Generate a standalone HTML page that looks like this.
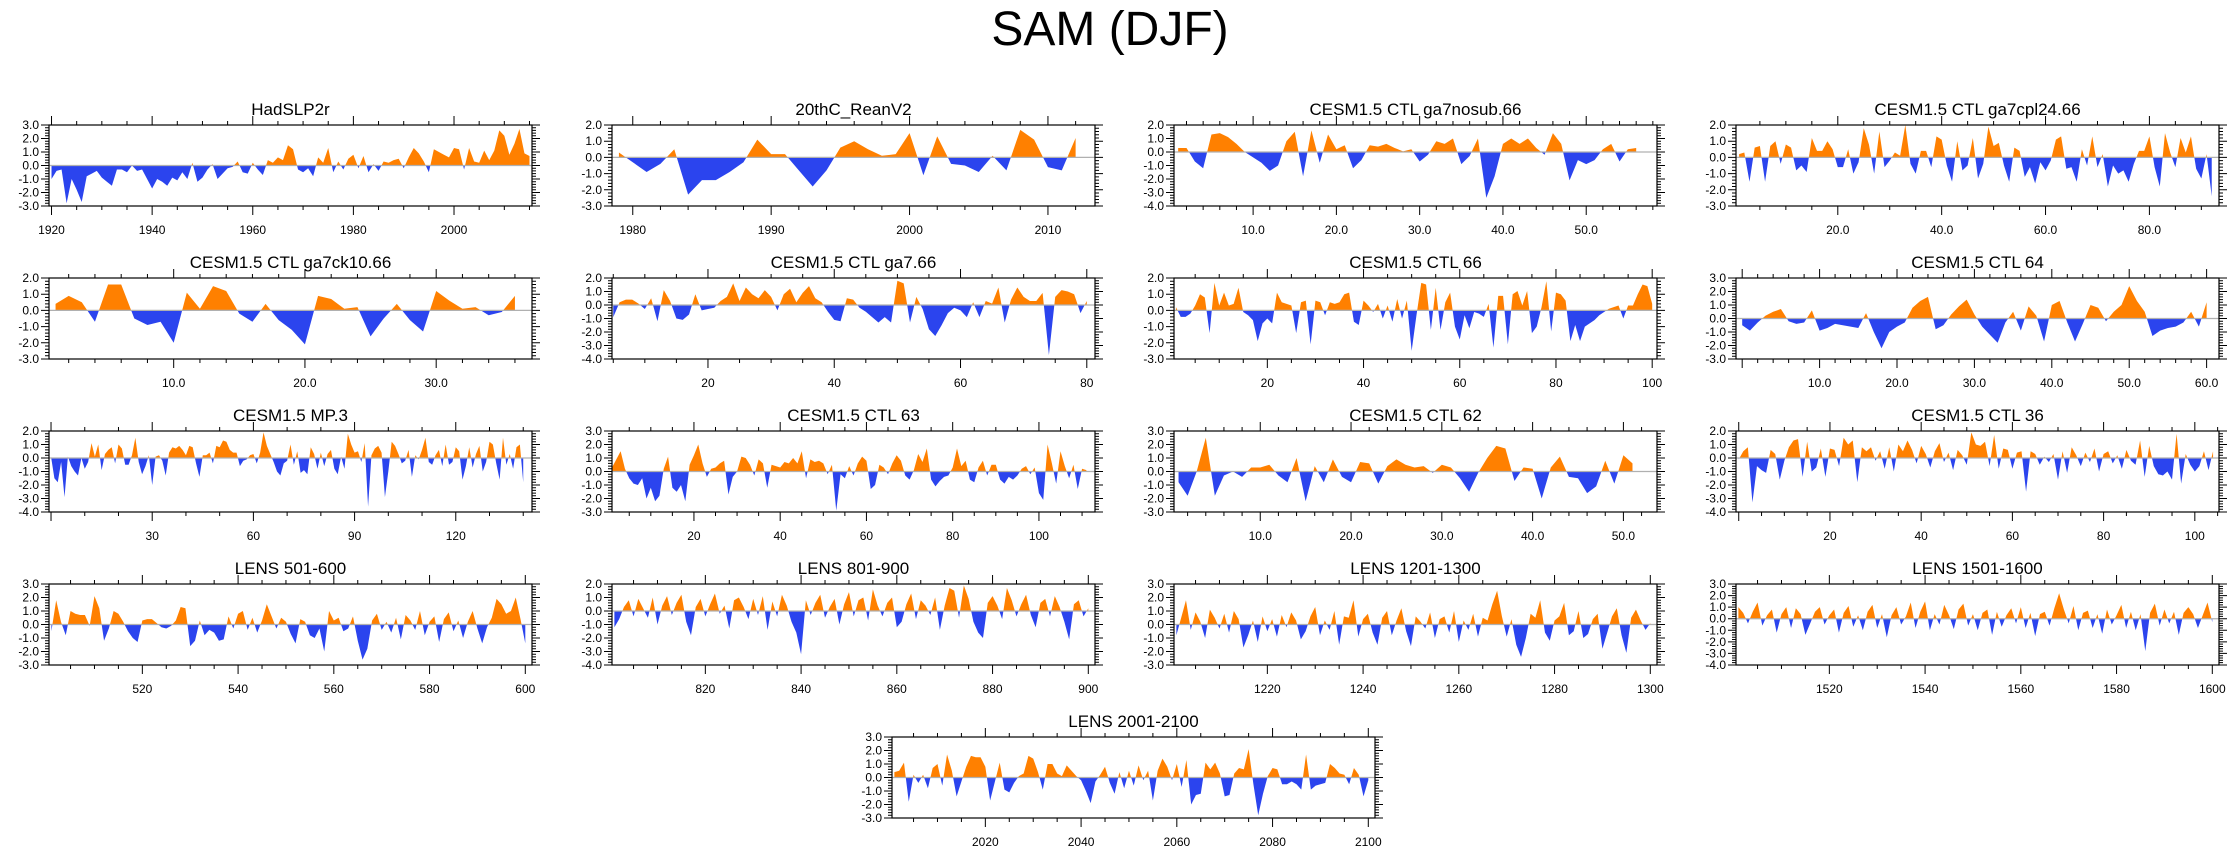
<!DOCTYPE html>
<html><head><meta charset="utf-8">
<style>
html,body{margin:0;padding:0;background:#fff;}
svg{display:block;font-family:"Liberation Sans",Arial,sans-serif;}
</style></head>
<body>
<svg id="fig" width="2238" height="856" viewBox="0 0 2238 856">
<text x="1110" y="45" font-size="48" text-anchor="middle">SAM (DJF)</text>
</svg>
<script>
// ---- data arrays ----
const hadslp2r = [-1.0,-0.4,-0.3,-2.8,-1.0,-1.8,-2.7,-0.8,-0.6,-0.4,-0.9,-1.2,-1.5,-0.3,-0.3,-0.5,0.0,-0.4,-0.3,-1.0,-1.7,-1.0,-1.2,-1.5,-0.9,-1.1,-0.5,-1.0,0.2,-1.2,-0.9,-0.3,0.1,-1.0,-0.6,-0.2,-0.1,0.3,-0.5,-0.6,0.2,-0.3,-0.7,0.4,0.2,0.6,0.4,1.5,1.2,-0.3,-0.5,-0.2,-0.8,0.6,0.2,1.3,-0.5,0.3,-0.3,0.5,0.8,-0.2,0.7,-0.5,0.1,-0.4,0.3,0.2,0.4,0.5,-0.2,0.6,1.3,0.9,0.3,-0.5,1.2,1.0,0.8,0.6,1.3,1.2,-0.3,1.3,0.3,0.2,1.1,0.4,1.1,2.6,2.2,0.8,1.6,2.7,0.9,0.7];
const reanv2 = [0.3,-0.3,-0.9,-0.4,0.5,-2.3,-1.4,-1.4,-0.9,-0.3,1.1,0.2,0.2,-0.8,-1.8,-0.8,0.6,1.0,0.5,0.1,0.2,1.5,-1.1,1.3,-0.4,-0.5,-0.9,0.1,-0.8,1.7,1.1,-0.6,-0.8,1.2];
const nosub66 = [0.3,0.3,-0.7,-1.2,1.3,1.4,1.1,0.6,0.0,-0.4,-0.8,-1.4,-1.0,0.8,1.5,-1.8,1.6,-0.8,1.3,0.2,0.5,-1.2,-0.6,0.5,0.4,0.6,0.3,0.05,0.2,-0.7,-0.2,0.8,0.6,1.0,-0.9,-0.3,1.0,-3.4,-1.8,0.6,1.0,0.6,1.0,0.3,-0.2,1.4,0.6,-2.1,-0.6,-0.9,-0.6,0.2,0.6,-0.7,0.2,0.3];
const cpl2466 = [0.2,0.3,-1.5,0.6,0.7,-1.5,0.7,1.0,-0.4,0.8,0.6,-0.8,-0.5,-0.9,1.2,0.4,0.4,1.0,0.5,-0.6,-0.6,0.5,-1.0,-0.3,1.8,0.8,-1.0,1.6,-0.6,-0.2,0.3,0.1,2.0,-0.4,-1.0,0.4,0.4,-0.6,1.3,1.1,-0.5,-1.5,1.0,-0.8,-0.5,1.2,-1.3,-0.4,1.9,0.7,0.9,-0.5,-1.5,0.6,0.4,-1.2,-0.6,-1.6,-0.3,-0.8,-0.2,1.1,1.3,-0.7,-0.6,-1.5,0.5,-0.5,1.3,-0.6,0.2,-1.8,-0.5,-1.0,-0.8,-1.5,-0.4,0.4,0.4,1.3,-0.6,-1.8,1.5,0.3,-0.6,1.2,0.3,1.3,-0.7,-1.3,0.2,-2.4];
const ck1066 = [0.4,0.9,0.5,-0.7,1.6,1.6,-0.5,-0.9,-0.7,-2.0,1.1,0.1,1.5,1.2,-0.2,-0.7,0.4,-0.6,-1.2,-2.1,0.9,0.7,0.1,0.2,-1.6,-0.5,0.4,-0.6,-1.3,1.2,0.6,0.1,0.2,-0.3,-0.1,0.9];
const ga766 = [-0.9,0.2,0.4,0.4,0.1,-0.3,0.5,-1.2,1.1,0.3,-1.0,-1.1,-0.7,0.8,-0.4,-0.3,-0.2,0.3,0.6,1.6,0.3,1.3,0.8,0.5,1.1,0.6,-0.4,0.8,1.2,0.2,0.9,1.4,0.5,0.2,-0.5,-1.1,-1.2,0.5,0.4,-0.2,-0.5,-0.9,-1.3,-0.9,-1.3,1.8,1.6,-1.3,0.6,-0.3,-1.8,-2.3,-1.5,-0.6,-0.2,-0.4,-0.9,0.2,-0.9,0.3,0.1,1.3,-1.3,0.4,1.3,0.6,0.3,0.3,0.9,-3.7,0.6,1.1,1.0,0.8,-0.6,0.3];
const ctl66 = [0.2,-0.4,-0.4,-0.2,0.3,1.0,0.8,-1.4,1.7,0.3,1.1,0.3,0.4,1.4,-0.1,-0.3,-0.6,-1.9,-0.8,-0.5,-0.8,1.1,0.5,0.4,0.3,-1.4,0.5,0.6,-2.1,0.6,0.5,-0.3,0.5,0.4,0.5,1.0,1.1,-0.7,-0.9,0.6,0.3,-0.1,0.4,-0.5,0.3,-0.7,0.7,-0.5,0.6,-2.5,-0.3,1.7,1.6,-1.2,1.4,-1.2,0.5,1.1,-1.0,-1.8,-0.3,-1.1,-0.1,-0.2,-0.4,0.4,-2.3,0.9,0.9,-2.1,1.0,1.2,0.3,1.2,-1.4,-1.0,0.2,1.8,-1.3,1.1,1.0,0.6,-1.9,-0.9,-1.9,-1.0,-0.8,-0.6,-0.3,-0.1,0.1,0.2,0.3,-0.5,0.3,0.3,1.0,1.6,1.5,0.4];
const ctl64 = [-0.5,-0.9,-0.3,0.2,0.5,0.7,-0.2,-0.4,-0.3,0.6,-0.9,-0.7,-0.4,-0.5,-0.6,-0.7,0.4,-1.0,-2.2,-1.0,-0.6,-0.3,0.8,1.3,1.6,-0.8,-0.5,0.3,0.9,1.4,0.3,-0.6,-1.2,-1.8,-0.3,0.5,-0.9,0.9,0.2,-1.7,1.0,1.3,-0.3,-1.7,-0.4,1.0,0.8,-0.2,0.5,1.0,2.4,1.3,0.5,-1.3,-0.9,-0.7,-0.6,-0.3,0.5,-0.6,1.2];
const mp3 = [0.1,-1.5,-1.8,-0.3,-2.9,0.1,-0.6,-1.0,-1.3,0.0,-0.8,-0.3,1.1,0.1,1.0,-0.9,0.3,0.6,0.8,-0.4,1.0,0.7,-0.5,-0.5,0.2,1.5,-0.3,-1.2,-0.6,0.2,-2.0,0.1,0.2,-0.2,-1.3,0.4,0.8,0.7,0.9,0.6,0.2,0.9,0.8,-0.4,-1.4,0.2,0.2,0.4,-0.4,0.9,0.8,1.3,1.2,0.6,0.4,0.4,-0.6,-0.2,-0.1,0.2,0.3,-0.4,0.4,1.9,0.9,0.3,-0.3,-1.0,-1.3,-0.4,-0.2,1.0,-0.5,0.5,-1.1,-0.9,-1.2,0.8,0.3,-0.8,0.4,-0.6,0.3,0.6,-0.8,-1.2,0.1,-0.8,1.8,1.0,0.4,0.5,-0.3,1.1,-3.6,0.2,0.7,0.9,0.4,-2.9,-1.0,1.2,0.9,0.3,-0.4,-0.2,0.6,-1.4,0.2,-0.1,0.6,1.5,-0.3,-0.5,0.2,0.6,-0.6,1.0,-0.5,-0.3,0.8,0.5,-1.6,-0.6,0.8,-0.7,0.3,0.9,-1.0,-0.3,1.2,1.0,-0.4,-1.6,1.5,-0.5,0.3,-0.8,0.8,1.0,-1.8];
const ctl63 = [0.3,0.9,1.5,0.2,-0.5,-0.9,-1.0,-0.5,-2.0,-1.2,-2.2,-1.8,0.2,1.1,-1.2,-1.5,-1.0,-2.2,0.5,1.2,2.0,0.6,-0.4,0.2,0.3,0.6,0.8,-1.7,-0.4,0.0,1.1,1.0,0.5,-0.3,0.9,0.6,-1.2,0.5,0.4,0.3,0.7,0.6,1.0,0.6,1.5,-0.5,0.9,0.7,0.8,0.6,-0.2,0.5,-2.9,-0.2,-0.5,0.4,-0.3,0.6,1.1,0.8,-1.3,-1.0,0.5,0.3,-0.2,0.6,1.2,0.8,-0.3,-0.6,0.1,1.3,0.7,1.7,-0.6,-1.1,-0.7,-0.4,-0.3,0.3,1.7,0.4,0.8,-0.6,-0.8,0.3,0.8,-0.3,0.5,0.5,-0.6,-0.9,-0.4,-0.6,-0.3,0.2,0.4,-0.2,0.3,-1.6,-2.1,2.0,0.6,-0.9,1.5,0.4,-0.5,0.5,-1.3,0.2,0.1];
const ctl62 = [-0.8,-1.8,0.0,2.5,-1.8,-0.3,0.0,-0.4,0.3,0.3,0.5,-0.3,-0.8,1.0,-2.2,0.4,-0.8,0.9,-0.4,-0.8,0.7,0.6,-0.9,0.4,0.9,0.5,0.3,0.4,-0.1,0.5,0.3,-0.5,-1.5,-0.1,1.0,1.9,1.7,-0.7,0.3,0.2,-2.0,0.3,1.1,-0.4,-0.5,-1.6,-1.1,0.8,-0.9,1.2,0.6];
const ctl36 = [-0.1,0.5,0.8,-3.3,-0.6,-0.9,-1.1,0.6,0.3,-1.6,-0.2,0.8,1.3,1.4,-1.4,1.2,-1.0,-0.7,0.7,-1.4,0.7,0.6,-0.6,1.5,1.0,1.3,-1.8,0.8,0.5,0.8,-0.2,0.5,-0.8,0.8,-1.0,1.0,0.5,1.3,0.6,-0.4,0.9,0.3,-0.7,0.5,1.1,-0.3,0.4,-0.9,0.6,0.2,-0.5,1.9,1.0,0.9,1.2,-0.6,1.7,-0.8,0.7,0.6,-0.8,0.4,0.5,-2.5,0.5,0.3,-0.5,0.1,-0.3,0.3,-1.6,0.5,-1.1,0.8,0.2,-0.6,0.4,-0.3,0.7,-1.0,0.3,0.5,-0.4,0.2,-0.8,0.6,-0.2,-0.5,1.3,-1.4,0.9,-0.6,-1.2,-1.3,-1.0,-1.6,1.8,-1.9,0.3,-0.5,-1.0,-0.6,0.5,-0.9,0.5];
const lens501 = [-0.5,1.8,0.2,-0.8,1.0,0.8,0.7,0.7,-0.1,2.1,1.2,-1.2,-0.3,1.0,0.8,0.2,-0.5,-1.0,-1.3,0.3,0.4,0.4,0.1,-0.2,-0.3,-0.1,0.3,1.3,1.2,-1.6,-1.2,0.3,-0.8,-0.4,-0.6,-1.2,-1.1,0.6,-0.3,0.8,1.0,-0.4,0.5,-0.6,0.3,1.5,0.6,-0.3,0.5,0.2,-0.7,-1.4,0.4,0.2,-0.8,-1.0,-0.3,-2.0,1.0,0.3,0.5,-0.5,-0.3,0.6,-1.2,-2.6,-1.8,0.3,0.8,-0.4,0.2,-0.6,0.5,-1.1,0.7,0.3,-0.4,1.0,-0.8,0.2,0.6,-1.3,0.4,0.9,-0.5,0.3,-1.0,0.2,1.0,-0.3,-1.4,-0.2,0.5,1.9,1.5,0.8,1.0,2.0,0.4,-1.4];
const lens801 = [-1.2,-0.6,0.3,0.8,-0.4,0.9,0.2,-0.5,1.0,-1.0,0.4,1.1,-0.3,0.6,1.2,-0.8,-1.8,0.3,0.9,-0.4,0.5,1.3,-0.2,0.4,-1.3,0.8,1.0,0.3,-0.6,0.9,-0.3,1.1,-1.4,0.7,-0.4,1.2,0.4,-0.8,-1.6,-3.2,0.8,-0.3,0.6,1.2,-0.5,0.3,0.9,-1.0,0.5,1.4,-0.4,0.8,1.0,-0.7,1.6,0.4,-0.4,0.6,1.0,-1.2,-0.8,0.5,1.3,-0.6,0.8,0.4,-0.3,1.0,-1.4,0.4,1.7,1.5,-0.5,1.9,0.9,-0.8,-1.6,-2.0,0.6,1.1,0.4,-0.6,1.7,0.8,-0.4,0.5,1.2,-0.3,-1.2,0.6,0.9,-0.4,1.1,0.3,-0.8,-2.1,0.5,0.8,-0.4,0.2];
const lens1201 = [-0.8,0.5,1.8,-0.4,0.9,0.2,-1.0,1.1,0.5,-0.3,0.8,-0.6,1.0,0.4,-1.7,-0.8,0.3,-1.3,0.6,-0.5,0.4,-0.9,0.7,-0.2,0.9,0.3,-1.1,-0.5,0.6,1.3,-0.8,0.3,-0.4,1.0,-1.5,0.6,0.5,1.8,-0.9,0.4,0.8,-0.6,-1.5,0.5,1.0,-0.8,0.3,1.2,-0.5,-1.6,0.6,0.2,-0.3,0.9,-1.0,0.4,0.6,-0.6,1.0,-1.3,0.3,-0.4,0.8,-0.9,0.5,0.3,1.5,2.5,0.6,-0.9,0.4,-1.5,-2.4,-1.0,0.8,0.5,1.8,-0.6,-1.2,0.3,0.6,1.6,-0.8,-0.5,1.0,-1.0,-0.7,0.4,0.8,-1.8,-0.6,0.6,1.2,-0.8,-2.1,0.5,1.1,0.3,-0.4,0.1];
const lens1501 = [1.0,0.5,-0.4,0.6,1.4,-0.6,0.3,0.8,-1.2,0.4,1.0,-0.8,0.9,0.4,-1.4,-0.4,0.6,1.0,-0.5,0.3,0.8,-1.2,0.5,1.1,-0.7,0.3,-1.0,0.6,1.2,-0.8,0.4,-1.6,0.3,1.0,-0.5,0.2,1.4,-0.8,0.6,1.5,-1.0,0.4,-0.5,1.2,0.3,-0.9,0.8,1.3,-0.6,0.4,-1.0,0.5,0.8,-1.4,0.6,-0.7,0.3,0.9,-0.4,1.0,-0.8,0.5,-1.5,0.4,0.6,-0.6,0.9,2.2,0.8,-0.4,1.1,-1.0,0.5,0.7,-0.8,0.4,-1.3,0.8,-0.5,0.3,1.2,-0.8,0.6,-1.0,0.4,-2.8,0.5,1.3,-0.6,0.8,-0.4,0.6,-1.4,0.5,1.0,0.4,-0.8,0.3,1.4,-0.3];
const lens2001 = [0.4,0.5,1.1,-1.8,0.2,-0.4,0.2,-0.8,0.7,1.0,-0.6,1.7,0.5,-1.4,-0.3,0.8,1.6,1.5,1.5,0.8,-1.7,-0.3,1.1,-0.9,-1.1,-0.4,0.1,0.3,1.6,1.4,0.4,-0.9,1.0,1.0,0.3,0.1,0.9,0.5,0.1,-0.2,-1.0,-1.9,-0.3,0.2,0.8,-0.4,-1.2,0.4,-0.8,0.5,-0.6,0.9,-0.2,0.5,-1.7,0.5,1.4,0.8,-0.2,1.0,-0.7,1.3,-2.0,-1.3,-1.2,1.1,0.6,1.1,0.3,-1.4,-1.3,0.3,0.7,0.6,2.1,-0.5,-2.8,-1.2,0.1,0.7,0.6,-0.5,-0.5,-0.3,-0.5,-0.9,1.7,-0.9,-0.6,-0.5,-0.4,1.0,0.7,0.3,0.2,-0.5,0.7,0.2,-1.4,-0.2];

const panelTitles = ["HadSLP2r","20thC_ReanV2","CESM1.5 CTL ga7nosub.66","CESM1.5 CTL ga7cpl24.66","CESM1.5 CTL ga7ck10.66","CESM1.5 CTL ga7.66","CESM1.5 CTL 66","CESM1.5 CTL 64","CESM1.5 MP.3","CESM1.5 CTL 63","CESM1.5 CTL 62","CESM1.5 CTL 36","LENS 501-600","LENS 801-900","LENS 1201-1300","LENS 1501-1600","LENS 2001-2100"];
const panelSeries = [hadslp2r,reanv2,nosub66,cpl2466,ck1066,ga766,ctl66,ctl64,mp3,ctl63,ctl62,ctl36,lens501,lens801,lens1201,lens1501,lens2001];
const seriesStart = [1920,1979,1,1,1,5,1,0,0,1,1,0,501,801,1201,1501,2001];
const xMin = [1919.5,1978.5,0.5,0.4,0.5,4.8,0.6,-0.8,-0.6,1,0.5,-0.6,500.5,800.5,1200.5,1500.5,2000.5];
const xMax = [2015.5,2013.4,58.5,93.4,37.3,81.3,101,61.6,142.6,113,53.7,105.3,601.4,901.4,1301.4,1601.4,2101.4];
const yMin = [-3,-3,-4,-3,-3,-4,-3,-3,-4,-3,-3,-4,-3,-4,-3,-4,-3];
const yMax = [3,2,2,2,2,2,2,3,2,3,3,2,3,2,3,3,3];
const xTickStart = [1920,1980,10,20,10,20,20,10,30,20,10,20,520,820,1220,1520,2020];
const xTickStep = [20,10,10,20,10,20,20,10,30,20,10,20,20,20,20,20,20];
const xMinorStep = [5,2,2,5,2,5,5,2,10,5,2,5,5,5,5,5,5];
const xLabelDecimals = [0,0,1,1,1,0,0,1,0,0,1,0,0,0,0,0,0];

const NS = "http://www.w3.org/2000/svg";
const svg = document.getElementById('fig');
const colLeft = [49,612,1174,1736];
const rowTop = [125,278,431,584,737];
const PW = 483, PH = 81;
function mk(tag, attrs, parent){
  const e = document.createElementNS(NS, tag);
  for (const k in attrs) e.setAttribute(k, attrs[k]);
  (parent||svg).appendChild(e);
  return e;
}

panelSeries.forEach((data, p) => {
  const L = p < 16 ? colLeft[p % 4] : 892;
  const T = p < 16 ? rowTop[Math.floor(p / 4)] : rowTop[4];
  const x0 = xMin[p], x1 = xMax[p], y0 = yMin[p], y1 = yMax[p];
  const sx = v => L + (v - x0) / (x1 - x0) * PW;
  const sy = v => T + (y1 - v) / (y1 - y0) * PH;
  const g = mk('g', {});
  
  

  const t = mk('text', {x: L + PW / 2, y: T - 10, 'font-size': 17, 'text-anchor': 'middle'}, g);
  t.textContent = panelTitles[p];
  
  

  const z = sy(0);
  const cidA = 'ca' + p, cidB = 'cb' + p;
  const defs = mk('defs', {}, g);
  const ca = mk('clipPath', {id: cidA}, defs);
  mk('rect', {x: L, y: T, width: PW, height: z - T}, ca);
  const cb = mk('clipPath', {id: cidB}, defs);
  mk('rect', {x: L, y: z, width: PW, height: T + PH - z}, cb);

  let d = 'M' + sx(seriesStart[p]).toFixed(2) + ',' + z.toFixed(2);
  data.forEach((v, i) => {
    const xv = seriesStart[p] + i;
    d += ' L' + sx(xv).toFixed(2) + ',' + sy(v).toFixed(2);
  });
  d += ' L' + sx(seriesStart[p] + data.length - 1).toFixed(2) + ',' + z.toFixed(2) + ' Z';
  const pos = mk('path', {d: d, fill: '#ff8000', 'clip-path': 'url(#' + cidA + ')'}, g);
  
  
  const neg = mk('path', {d: d, fill: '#2b44ee', 'clip-path': 'url(#' + cidB + ')'}, g);
  
  

  const zl = mk('line', {x1: L, x2: L + PW, y1: z, y2: z, stroke: '#b0b0b0', 'stroke-width': 1.2}, g);
  
  

  const box = mk('rect', {x: L, y: T, width: PW, height: PH, fill: 'none', stroke: '#000', 'stroke-width': 1.2}, g);
  
  

  let td = '';
  for (let k = Math.round(y0 * 5); k <= Math.round(y1 * 5); k++) {
    const yy = sy(k / 5);
    const len = (k % 5 === 0) ? 8 : 4;
    td += 'M' + (L - len) + ',' + yy + 'H' + L + 'M' + (L + PW) + ',' + yy + 'h' + len;
  }
  for (let v = Math.ceil(y0); v <= y1; v++) {
    const lab = mk('text', {x: L - 10, y: sy(v) + 4, 'font-size': 12, 'text-anchor': 'end'}, g);
    lab.textContent = v.toFixed(1);
    
    
  }
  const ms = xMinorStep[p];
  for (let v = Math.ceil(x0 / ms) * ms; v <= x1; v += ms) {
    const xx = sx(v);
    const major = ((v - xTickStart[p]) % xTickStep[p] + xTickStep[p]) % xTickStep[p] === 0;
    const len = major ? 9 : 4;
    td += 'M' + xx + ',' + (T - len) + 'V' + T + 'M' + xx + ',' + (T + PH) + 'v' + len;
  }
  const ticks = mk('path', {d: td, stroke: '#000', 'stroke-width': 1, fill: 'none'}, g);
  
  
  for (let v = xTickStart[p]; v <= x1; v += xTickStep[p]) {
    const lab = mk('text', {x: sx(v), y: T + PH + 28, 'font-size': 12, 'text-anchor': 'middle'}, g);
    lab.textContent = v.toFixed(xLabelDecimals[p]);
    
    
  }
});
</script>
</body></html>
